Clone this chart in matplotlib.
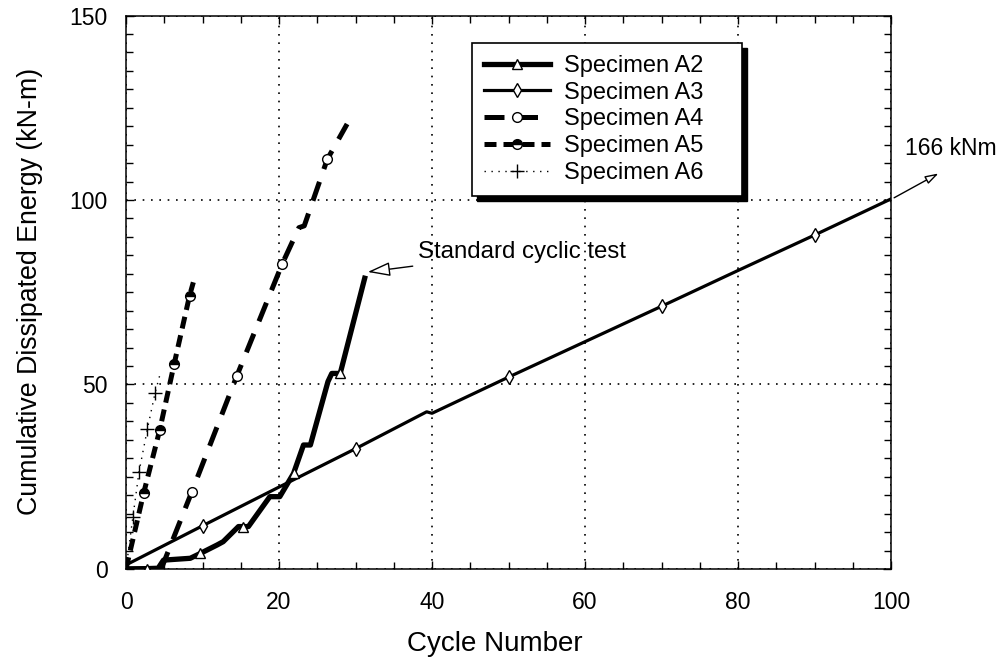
import matplotlib
matplotlib.use("Agg")
import matplotlib.pyplot as plt
from matplotlib.patches import Rectangle
from matplotlib.ticker import MultipleLocator

plt.rcParams['font.family'] = ['Liberation Sans', 'DejaVu Sans']

# ---- data ----
a2_x = [0, 2.7, 4.2, 4.9, 8.4, 9.7, 11.9, 12.7, 14.7, 15.3, 16.0, 18.8, 20.1, 21.9, 23.2, 24.1, 26.4, 26.9, 28.0, 31.2]
a2_y = [0, 0.1, 0.2, 2.4, 2.9, 4.2, 6.5, 7.4, 11.5, 11.5, 11.5, 19.6, 19.6, 25.9, 33.6, 33.6, 50.8, 53.0, 53.0, 78.8]
a2_marks = [1, 5, 9, 13, 18]

a3_x = [0, 10, 20, 30, 39.3, 40, 50, 60, 70, 80, 90, 100]
a3_y = [1.1, 11.7, 22.2, 32.6, 42.6, 42.2, 52, 61.6, 71.2, 80.9, 90.5, 100.3]
a3_marks = [1, 3, 6, 8, 10]

a4_x = [0, 4.6, 8.6, 14.5, 20.4, 22.6, 23.3, 26.3, 28.9]
a4_y = [0, 0, 20.9, 52.4, 82.6, 92.5, 93.0, 111.0, 120.6]
a4_marks = [2, 3, 4, 7]

a5_x = [0, 2.3, 4.4, 6.3, 8.3, 8.8]
a5_y = [0, 20.5, 37.6, 55.6, 74.0, 77.7]
a5_marks = [1, 2, 3, 4]

a6_x = [0, 0.9, 1.7, 2.8, 3.8, 4.4]
a6_y = [0, 14.1, 26.3, 38.0, 47.7, 52.4]
a6_marks = [1, 2, 3, 4]

labels = ['Specimen A2', 'Specimen A3', 'Specimen A4', 'Specimen A5', 'Specimen A6']
x_ticks = [0, 20, 40, 60, 80, 100]
y_ticks = [0, 50, 100, 150]

fig = plt.figure(figsize=(10.04, 6.69), dpi=100)
ax = fig.add_axes([0.1255, 0.1495, 0.762, 0.8273])

ax.plot(a2_x, a2_y, color='k', lw=3.8, marker='^', markevery=a2_marks,
        ms=7, mfc='white', mec='k', mew=1, label=labels[0], zorder=5)
ax.plot(a3_x, a3_y, color='k', lw=2.3, marker='d', markevery=a3_marks,
        ms=7, mfc='white', mec='k', mew=1, label=labels[1], zorder=4)
ax.plot(a4_x, a4_y, color='k', lw=3.6, dashes=(4, 2.7), marker='o', markevery=a4_marks,
        ms=7, mfc='white', mec='k', mew=1, label=labels[2], zorder=4)
ax.plot(a5_x, a5_y, color='k', lw=3.6, dashes=(2.4, 1.4), marker='o', markevery=a5_marks,
        ms=7, mfc='k', mfcalt='white', fillstyle='top', mec='k', mew=1, label=labels[3], zorder=4)
ax.plot(a6_x, a6_y, color='k', lw=1.0, linestyle=(0, (1, 4)), marker='+', markevery=a6_marks,
        ms=10, mec='k', mew=1, label=labels[4], zorder=4)

ax.set_xlim(0, 100)
ax.set_ylim(0, 150)
ax.set_xticks(x_ticks)
ax.set_yticks(y_ticks)
ax.xaxis.set_minor_locator(MultipleLocator(5))
ax.yaxis.set_minor_locator(MultipleLocator(5))
ax.tick_params(which='both', direction='in', top=True, right=True, width=1, colors='k')
ax.tick_params(which='major', length=6, labelsize=16.5)
ax.tick_params(which='minor', length=5)
ax.tick_params(axis='x', which='major', pad=16)
ax.tick_params(axis='y', which='major', pad=13)
for s in ax.spines.values():
    s.set_linewidth(1.1)

ax.grid(True, which='major', color='k', linestyle=(0, (1, 4)), linewidth=1.2)

ax.set_xlabel('Cycle Number', fontsize=20)
ax.set_ylabel('Cumulative Dissipated Energy (kN-m)', fontsize=19.3)
ax.xaxis.set_label_coords((495 - 126) / 765, -0.112)
ax.yaxis.set_label_coords(-0.108, 0.502)

leg = ax.legend(loc='upper left', bbox_to_anchor=(0.452, 0.95, 0.353, 0.0), mode='expand',
                fontsize=17, frameon=True, fancybox=False, edgecolor='k', framealpha=1,
                handlelength=2.8, handletextpad=0.6, labelspacing=0.2, borderpad=0.5,
                numpoints=1, borderaxespad=0)
leg.get_frame().set_linewidth(1.2)

ax.annotate('Standard cyclic test', xy=(31.6, 80.5), xytext=(38.2, 85.9),
            ha='left', va='center', fontsize=17.3,
            arrowprops=dict(arrowstyle='-|>,head_length=0.8,head_width=0.25',
                            fc='white', ec='k', lw=1, shrinkA=2, shrinkB=0))

ax.annotate('', xy=(106.2, 107.2), xytext=(100.4, 100.6), annotation_clip=False,
            arrowprops=dict(arrowstyle='-|>,head_length=0.8,head_width=0.25',
                            fc='white', ec='k', lw=1, shrinkA=0, shrinkB=0))
ax.text(101.8, 114, '166 kNm', fontsize=16.5, ha='left', va='center', clip_on=False)

# drop shadow behind legend
fig.canvas.draw()
bb = leg.get_window_extent().transformed(fig.transFigure.inverted())
dx, dy = 5 / 1004, 5 / 669
shadow = Rectangle((bb.x0 + dx, bb.y0 - dy), bb.width, bb.height, transform=fig.transFigure,
                   facecolor='k', edgecolor='k')
ax.add_artist(shadow)
shadow.set_clip_on(False)
leg.set_zorder(10)
shadow.set_zorder(9)

fig.savefig('out.png', dpi=100)
